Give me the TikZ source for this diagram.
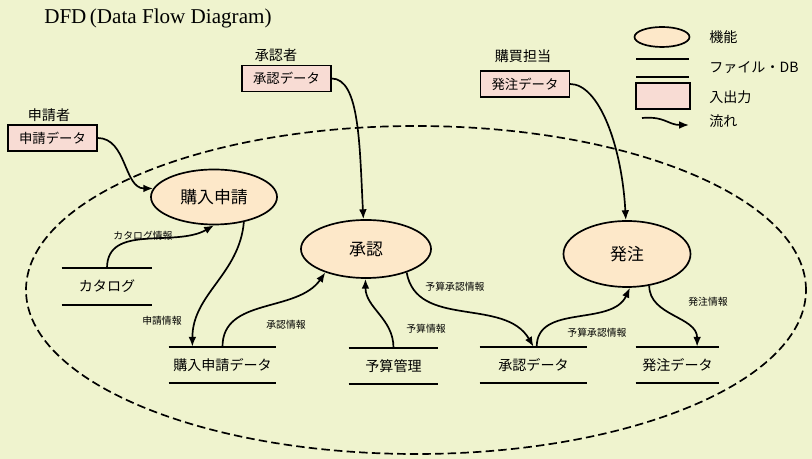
\documentclass[tikz,border=0pt]{standalone}
\usepackage{fontspec}
\setmainfont{Liberation Serif}
\newfontfamily\jp{Noto Sans CJK JP}
\usetikzlibrary{shapes.geometric,arrows.meta,calc}

\definecolor{bgcol}{RGB}{239,243,206}
\definecolor{proccol}{RGB}{253,232,201}
\definecolor{iocol}{RGB}{248,220,212}

\tikzset{
  proc/.style={ellipse, draw, line width=1.2pt, fill=proccol, inner sep=0pt, font=\jp\fontsize{12}{14}\selectfont},
  iobox/.style={rectangle, draw, line width=0.8pt, fill=iocol, minimum width=2.225cm, minimum height=0.65cm, inner sep=0pt, font=\jp\fontsize{9.5}{11}\selectfont},
  store/.style={minimum height=0.9cm, inner sep=0pt, font=\jp\fontsize{10}{12}\selectfont},
  flow/.style={line width=1.2pt, -{Latex[length=7pt,width=5.5pt]}},
  info/.style={inner sep=0pt, font=\jp\fontsize{7}{8}\selectfont},
  who/.style={inner sep=0pt, font=\jp\fontsize{10}{12}\selectfont},
}

\begin{document}
\begin{tikzpicture}[x=0.025cm, y=0.025cm]
    \fill[bgcol] (0,0) rectangle (812,459);
    \useasboundingbox (0,0) rectangle (812,459);

    \node[anchor=west, inner sep=0pt, font=\fontsize{15}{18}\selectfont] (title) at (44,441) {DFD\,(Data Flow Diagram)};

    % system boundary
    \draw[line width=1.2pt, dash pattern=on 6pt off 3pt] (416,169) ellipse [x radius=390, y radius=164];

    % legend
    \node[proc, minimum width=1.375cm, minimum height=0.5cm] (keyproc) at (662,422) {};
    \draw[line width=1.4pt] (636,400) -- (689,400) (636,382) -- (689,382);
    \node[iobox, minimum width=1.35cm] (keyio) at (663,363) {};
    \coordinate (keya) at (642,341);
    \coordinate (keyb) at (689,334);
    \draw[flow] (keya) .. controls (665,343) and (668,334) .. (keyb);
    \node[who, anchor=west] (k1) at (709,422) {機能};
    \node[who, anchor=west] (k2) at (709,391) {ファイル・DB};
    \node[who, anchor=west] (k3) at (709,362) {入出力};
    \node[who, anchor=west] (k4) at (709,338) {流れ};

    % outside
    \node[who] (w1) at (49,344) {申請者};
    \node[iobox] (inreq) at (52.5,321) {申請データ};
    \node[who] (w2) at (276,404) {承認者};
    \node[iobox] (apvin) at (286.5,380.5) {承認データ};
    \node[who] (w3) at (523,403) {購買担当};
    \node[iobox] (ordin) at (525,375) {発注データ};

    % processes
    \node[proc, minimum width=3.15cm, minimum height=1.375cm] (apply) at (214,262) {購入申請};
    \node[proc, minimum width=3.25cm, minimum height=1.45cm] (approve) at (366,210) {承認};
    \node[proc, minimum width=3.175cm, minimum height=1.65cm] (order) at (627,205) {発注};

    % stores
    \node[store, minimum width=2.25cm] (cat) at (107,172.5) {カタログ};
    \node[store, minimum width=2.675cm] (rd) at (222.5,94) {購入申請データ};
    \node[store, minimum width=2.225cm] (bud) at (393.5,93) {予算管理};
    \node[store, minimum width=2.675cm] (ad) at (533.5,94) {承認データ};
    \node[store, minimum width=2.075cm] (od) at (677.5,94) {発注データ};
    \foreach \s in {cat,rd,bud,ad,od}
        \draw[line width=1.4pt] (\s.north west) -- (\s.north east) (\s.south west) -- (\s.south east);

    % flows
    \draw[flow] (inreq.east) to[out=0,in=180] (apply.172);
    \draw[flow] (apvin.east) to[out=0,in=93,out looseness=0.5,in looseness=1.3] (approve.95);
    \draw[flow] (ordin.east) to[out=0,in=93,out looseness=0.5,in looseness=1.3] (order.92);
    \draw[flow] (cat.north) to[out=90,in=210] (apply.-90);
    \draw[flow] (apply.-40) to[out=-95,in=90] ($(rd.north west)!0.22!(rd.north east)$);
    \draw[flow] (rd.north) to[out=90,in=-125] (approve.-150);
    \draw[flow] (bud.north) to[out=90,in=-90] (approve.-91);
    \draw[flow] (approve.-30) to[out=-80,in=120] (ad.north);
    \draw[flow] ($(ad.north west)!0.53!(ad.north east)$) to[out=90,in=-115] (order.-85);
    \draw[flow] (order.-55) to[out=-90,in=90] ($(od.north west)!0.735!(od.north east)$);

    % flow labels
    \node[info] (l1) at (143,223) {カタログ情報};
    \node[info] (l2) at (162,138) {申請情報};
    \node[info] (l3) at (286,134) {承認情報};
    \node[info] (l4) at (426,130) {予算情報};
    \node[info] (l5) at (455,172) {予算承認情報};
    \node[info] (l6) at (597,126) {予算承認情報};
    \node[info] (l7) at (708,157) {発注情報};
\end{tikzpicture}
\end{document}
